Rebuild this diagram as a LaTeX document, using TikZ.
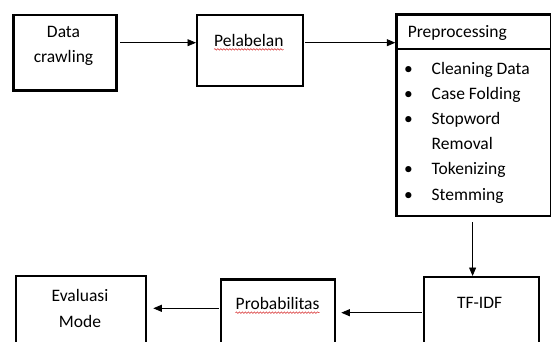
\documentclass[tikz,border=0pt]{standalone}
\usepackage{fontspec}
\setmainfont{Carlito}
\usetikzlibrary{arrows.meta,decorations.pathmorphing}
\definecolor{salah}{RGB}{214,40,40}
\newcommand{\butir}{\makebox[27.5pt][l]{\textbullet}}

\begin{document}
\begin{tikzpicture}[x=1pt,y=1pt,
  kotak/.style={draw,line width=2.3pt,anchor=north west,inner sep=0pt},
  teks/.style={inner sep=0pt,align=center,font=\fontsize{17.5}{25.2}\selectfont},
  panah/.style={line width=0.8pt,-{Triangle[length=8.5pt,width=7pt]}},
  garis/.style={salah,line width=0.5pt,decorate,decoration={snake,amplitude=0.8pt,segment length=3pt}}]
\clip (0,0) rectangle (551,341);
\node[kotak,minimum width=103pt,minimum height=75.3pt] (crawl) at (12.3,327) {};
\node[kotak,minimum width=105.5pt,minimum height=71pt] (lbl) at (196,327) {};
\node[kotak,minimum width=154.7pt,minimum height=201.7pt] (prep) at (395.3,327.7) {};
\node[kotak,minimum width=115pt,minimum height=80pt] (tfidf) at (422.7,65) {};
\node[kotak,minimum width=114pt,minimum height=80pt] (prob) at (220,62.7) {};
\node[kotak,minimum width=130.5pt,minimum height=80pt] (eval) at (14.5,66) {};
\draw[line width=2.3pt] (prep.west |- 0,291.7) -- (prep.east |- 0,291.7);

\node[teks] (tcrawl) at (63.5,295.2) {Data\\crawling};
\node[teks] (tlbl) at (248.8,301) {Pelabelan};
\node[teks,anchor=west] (tprep) at (407.6,308.3) {Preprocessing};
\node[teks,align=left,anchor=west] (daftar) at (404,208.5) {\butir Cleaning Data\\\butir Case Folding\\\butir Stopword\\\makebox[27.5pt]{}Removal\\\butir Tokenizing\\\butir Stemming};
\node[teks] (ttfidf) at (479.6,38.3) {TF-IDF};
\node[teks] (tprob) at (277.6,37.7) {Probabilitas};
\node[teks] (teval) at (80,32.5) {Evaluasi\\Mode};

\draw[garis] ([yshift=-3pt]tlbl.south west) -- ([yshift=-3pt]tlbl.south east);
\draw[garis] ([yshift=-3pt]tprob.south west) -- ([yshift=-3pt]tprob.south east);

\draw[panah,shorten <=2.5pt] (crawl.east |- 0,298.3) -- (lbl.west |- 0,298.3);
\draw[panah,shorten <=1pt] (lbl.east |- 0,298.3) -- (prep.west |- 0,298.3);
\draw[panah,shorten <=5pt] (prep.south -| 472.6,0) -- (tfidf.north -| 472.6,0);
\draw[panah,shorten <=1pt,shorten >=5pt] (tfidf.west |- 0,28.3) -- (prob.east |- 0,28.3);
\draw[panah,shorten <=1.5pt,shorten >=6pt] (prob.west |- 0,32.7) -- (eval.east |- 0,32.7);
\end{tikzpicture}
\end{document}
